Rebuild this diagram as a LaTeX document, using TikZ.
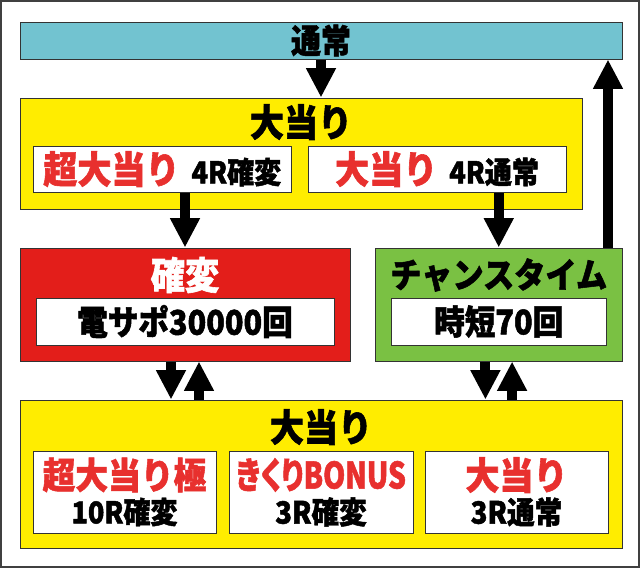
\documentclass[tikz,border=0pt]{standalone}
\usepackage{fontspec}
\setmainfont{Noto Sans CJK JP}[FakeStretch=0.9,BoldFeatures={FakeBold=1.5}]
\usetikzlibrary{arrows.meta}
\definecolor{tsujoblue}{RGB}{114,195,208}
\definecolor{atariyellow}{RGB}{255,237,0}
\definecolor{kakured}{RGB}{227,30,26}
\definecolor{chancegreen}{RGB}{122,193,67}
\definecolor{atarired}{RGB}{232,48,46}
\newcommand{\fs}[1]{\fontsize{#1}{#1}\selectfont}
\newcommand{\prop}{\addfontfeature{RawFeature=+palt}}

\begin{document}
\begin{tikzpicture}[x=0.75pt,y=-0.75pt,
    panel/.style={draw=black!80,line width=0.75pt,inner sep=0pt},
    sz/.style 2 args={minimum width=#1*0.75pt,minimum height=#2*0.75pt},
    lbl/.style={inner sep=0pt,font=\bfseries\fs{#1}},
    fat/.style={line width=7.5pt,-{Triangle[width=21pt,length=22pt]}}]
  \useasboundingbox (0,0) rectangle (640,568);
  \draw [black!75,line width=1.5pt] (1,1) rectangle (639,567);
  % normal mode
  \node [panel,fill=tsujoblue,sz={602}{37},font=\bfseries\fs{25}] (tsujo) at (321,40.5) {通常};
  % first jackpot
  \node [panel,fill=atariyellow,sz={562}{111}] (atari) at (301,153.5) {};
  \node [lbl=28.4] (atarit) at (301,122) {大当り};
  \node [panel,fill=white,sz={257.5}{46}] (chokaku) at (162.25,169)
    {{\bfseries\color{atarired}\fs{28.4}超大当り}\hspace{9pt}{\bfseries\fs{22.5}4R確変}};
  \node [panel,fill=white,sz={258}{46}] (atatsu) at (437,169)
    {{\bfseries\color{atarired}\fs{28.4}大当り}\hspace{9pt}{\bfseries\fs{22.5}4R通常}};
  % modes
  \node [panel,fill=kakured,sz={330}{113}] (kakuhen) at (185,304.5) {};
  \node [lbl=28.5,text=white] (kakuhent) at (185,275) {確変};
  \node [panel,fill=white,sz={298}{47},font=\bfseries\fs{25.5}] (densapo) at (185,321.5) {電サポ30000回};
  \node [panel,fill=chancegreen,sz={246.5}{113}] (chance) at (498.75,304.5) {};
  \node [lbl=26] (chancet) at (498.75,275) {チャンスタイム};
  \node [panel,fill=white,sz={215.5}{47},font=\bfseries\fs{25.5}] (jitan) at (498.75,321.5) {時短70回};
  % second jackpot
  \node [panel,fill=atariyellow,sz={602}{148}] (bottom) at (321,474) {};
  \node [lbl=28.4] (bottomt) at (321,427) {大当り};
  \node [panel,fill=white,sz={183}{82}] (kiwami) at (124.5,492) {};
  \node [panel,fill=white,sz={184}{82}] (kikuri) at (321,492) {};
  \node [panel,fill=white,sz={183}{82}] (futsu) at (516.5,492) {};
  \node [lbl=27.3,text=atarired] (kiwamit) at (124.5,475) {超大当り極};
  \node [lbl=22.5] (kiwamib) at (124.5,512) {10R確変};
  \node [lbl=27.3,text=atarired] (kikurit) at (321,475) {\scalebox{0.86}[1]{{\prop きくり}BONUS}};
  \node [lbl=23] (kikurib) at (321,512) {3R確変};
  \node [lbl=28.4,text=atarired] (futsut) at (516.5,475) {大当り};
  \node [lbl=23] (futsub) at (516.5,512) {3R通常};
  % arrows
  \coordinate (ret) at (608,0);
  \draw [fat] (tsujo.south) -- (tsujo.south |- atari.north);
  \draw [fat] (kakuhen.north |- chokaku.south) -- (kakuhen.north);
  \draw [fat] (chance.north |- atatsu.south) -- (chance.north);
  \draw [fat] (ret |- chance.north) -- (ret |- tsujo.south);
  \draw [fat] ([xshift=-10.5pt]kakuhen.south) -- ([xshift=-10.5pt]kakuhen.south |- bottom.north);
  \draw [fat] ([xshift=10.5pt]kakuhen.south |- bottom.north) -- ([xshift=10.5pt]kakuhen.south);
  \draw [fat] ([xshift=-10pt]chance.south) -- ([xshift=-10pt]chance.south |- bottom.north);
  \draw [fat] ([xshift=10pt]chance.south |- bottom.north) -- ([xshift=10pt]chance.south);
\end{tikzpicture}
\end{document}
